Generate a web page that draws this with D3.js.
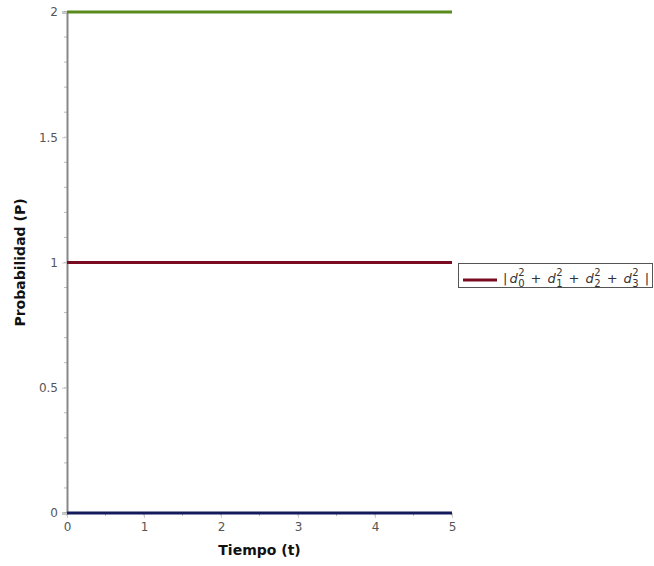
<!DOCTYPE html>
<html>
<head>
<meta charset="utf-8">
<script src="https://cdn.jsdelivr.net/npm/d3@7"></script>
<style>
body { margin: 0; background: #fff; }
svg { display: block; }
.tick text { font-family: "DejaVu Sans", sans-serif; font-size: 12px; fill: #555; }
.title { font-family: "DejaVu Sans", sans-serif; font-size: 14px; font-weight: bold; fill: #111; }
.leg { font-family: "DejaVu Sans", sans-serif; fill: #333; }
</style>
</head>
<body>
<svg width="654" height="566"></svg>
<script>
var svg = d3.select("svg");

// data
var tValues = [0, 5];
var green = [2, 2];   // upper constant line
var maroon = [1, 1];  // |d0^2 + d1^2 + d2^2 + d3^2|
var navy = [0, 0];    // lower constant line
var xTicks = [0, 1, 2, 3, 4, 5];
var yTicks = [0, 0.5, 1, 1.5, 2];
var yTickLabels = ["0", "0.5", "1", "1.5", "2"];
var legendSubs = ["0", "1", "2", "3"];

var mLeft = 67, mRight = 452, mTop = 12, mBottom = 513;

var x = d3.scaleLinear().domain([0, 5]).range([mLeft, mRight]);
var y = d3.scaleLinear().domain([0, 2]).range([mBottom, mTop]);

// minor ticks
var yMinor = d3.range(0, 2.0001, 0.1);
svg.append("g").selectAll("line").data(yMinor).enter().append("line")
    .attr("x1", mLeft - 3).attr("x2", mLeft)
    .attr("y1", function (d) { return y(d); })
    .attr("y2", function (d) { return y(d); })
    .attr("stroke", "#bbb");
var xMinor = d3.range(0, 5.0001, 0.5);
svg.append("g").selectAll("line").data(xMinor).enter().append("line")
    .attr("x1", function (d) { return x(d); })
    .attr("x2", function (d) { return x(d); })
    .attr("y1", mBottom).attr("y2", mBottom + 3)
    .attr("stroke", "#bbb");

var yAxis = svg.append("g")
    .attr("transform", "translate(" + mLeft + ",0)")
    .call(d3.axisLeft(y).tickValues(yTicks)
        .tickFormat(function (d, i) { return yTickLabels[i]; })
        .tickSize(5).tickPadding(4));
yAxis.select(".domain").attr("stroke", "#888").attr("stroke-width", 2);
yAxis.selectAll(".tick line").attr("stroke", "#ccc");

var xAxis = svg.append("g")
    .attr("transform", "translate(0," + mBottom + ")")
    .call(d3.axisBottom(x).tickValues(xTicks).tickFormat(d3.format("d"))
        .tickSize(5).tickPadding(4));
xAxis.select(".domain").attr("stroke", "#888");
xAxis.selectAll(".tick line").attr("stroke", "#ccc");

var line = d3.line()
    .x(function (d, i) { return x(tValues[i]); })
    .y(function (d) { return y(d); });

var series = [
    { values: green, color: "#5a8a1e" },
    { values: maroon, color: "#7a0c22" },
    { values: navy, color: "#141a5a" }
];
svg.append("g").selectAll("path").data(series).enter().append("path")
    .attr("d", function (d) { return line(d.values); })
    .attr("fill", "none")
    .attr("stroke", function (d) { return d.color; })
    .attr("stroke-width", 3);

// axis titles
svg.append("text").attr("class", "title")
    .attr("x", x(2.5)).attr("y", 555)
    .attr("text-anchor", "middle")
    .text("Tiempo (t)");
svg.append("text").attr("class", "title")
    .attr("transform", "translate(25," + y(1) + ") rotate(-90)")
    .attr("text-anchor", "middle")
    .text("Probabilidad (P)");

// legend
var lg = svg.append("g");
lg.append("rect")
    .attr("x", 458.5).attr("y", 263.5)
    .attr("width", 194).attr("height", 24)
    .attr("fill", "#fff").attr("stroke", "#555");
lg.append("line")
    .attr("x1", 463).attr("x2", 497).attr("y1", 280).attr("y2", 280)
    .attr("stroke", "#7a0c22").attr("stroke-width", 3);

var cx = 503, base = 283;
function put(str, size, dy, italic) {
    var t = lg.append("text").attr("class", "leg")
        .attr("x", cx).attr("y", base + dy)
        .attr("font-size", size)
        .attr("font-style", italic ? "italic" : "normal")
        .text(str);
    return t.node().getComputedTextLength();
}
cx += put("|", 13, 0) + 2;
legendSubs.forEach(function (k, i) {
    if (i > 0) cx += put("+", 13, 0) + 6;
    cx += put("d", 13, 0, true) + 0.5;
    var w1 = put("2", 10, -7);
    var w2 = put(k, 10, 4);
    cx += Math.max(w1, w2) + 6;
});
put("|", 13, 0);
</script>
</body>
</html>
